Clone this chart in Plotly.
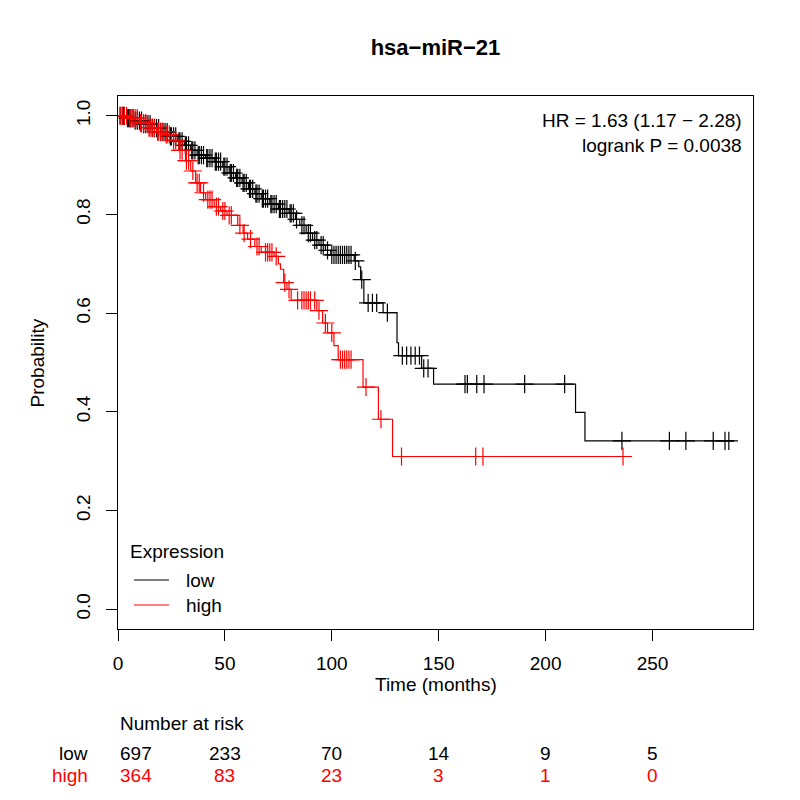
import numpy as np
import plotly.graph_objects as go

# --- Kaplan-Meier steps ---
# low expression (black)
low_time = [0, 4, 8, 12, 16, 20, 24, 28, 31, 34, 37, 41, 45, 49, 52, 55, 58, 61, 64, 67,
            71, 75, 80, 83, 85, 88, 91, 94, 97, 99.5, 110.5, 112.6, 113.5, 115, 124,
            130.5, 131.2, 142, 147.6, 214, 218.4]
low_surv = [1.0, 0.995, 0.99, 0.983, 0.975, 0.967, 0.958, 0.948, 0.94, 0.93, 0.92, 0.914,
            0.907, 0.897, 0.884, 0.874, 0.864, 0.852, 0.842, 0.832, 0.821, 0.811, 0.802,
            0.79, 0.778, 0.762, 0.748, 0.738, 0.727, 0.718, 0.706, 0.694, 0.668, 0.621,
            0.601, 0.54, 0.514, 0.488, 0.456, 0.399, 0.341]
low_end = 288.1
low_censor = [1, 2, 2.5, 3, 4.5, 5, 5.5, 6, 7, 8, 9, 10, 11, 12, 13, 14, 15, 16, 17, 18,
              19, 20, 21, 22, 23, 24.5, 25, 26, 27, 28.5, 29, 30, 31.5, 32, 33, 34.5, 35,
              36, 37.5, 38, 39, 40, 41.5, 42, 43, 44, 45.5, 46, 47, 48, 49.5, 50, 51, 52.5,
              53, 54, 55.5, 56, 57, 58.5, 59, 60, 61.5, 62, 63, 64.5, 65, 66, 67.5, 68, 69,
              70, 71.5, 72, 73, 74, 75.5, 76, 77, 78, 79, 80.5, 81, 82, 83.5, 86, 87, 89,
              90, 92, 93, 95, 96, 98, 100, 101, 102, 103, 104, 105, 106, 107, 108, 109,
              111, 114, 117, 119, 121, 126, 133, 135, 137, 139, 141, 143, 145,
              162.3, 163.4, 167.8, 171.2, 190.2, 208.9, 235.7, 257.9, 265.6, 278.4,
              283.9, 285.7]

# high expression (red)
high_time = [0, 5, 10, 14, 18, 22, 25, 28.5, 31.6, 34, 36.3, 38.6, 41, 45, 48, 51, 56,
             58.5, 60.6, 64, 67, 73, 75, 76, 77.5, 79, 81, 93, 95.7, 98, 101, 103, 114.6,
             121.8, 128.4]
high_surv = [1.0, 0.995, 0.985, 0.976, 0.968, 0.962, 0.95, 0.93, 0.909, 0.888, 0.864,
             0.844, 0.83, 0.816, 0.807, 0.798, 0.778, 0.762, 0.75, 0.735, 0.723, 0.715,
             0.70, 0.689, 0.662, 0.648, 0.626, 0.605, 0.58, 0.56, 0.534, 0.506, 0.45,
             0.385, 0.3095]
high_end = 238.5
high_censor = [1, 2, 3, 4, 5.5, 6, 7, 8, 9, 10.5, 11, 12, 13, 14.5, 15, 16, 17, 18.5, 19,
               20, 21, 22.5, 23, 24, 26, 27, 29, 30, 32, 33, 35, 37, 38, 40, 42, 43, 44,
               46, 47, 49, 50, 52, 53, 57, 59, 62, 65, 66, 69, 70, 71, 72, 74, 78, 80,
               84, 86, 87, 88, 89, 90, 92, 94, 97, 100, 104, 105, 106, 107, 108, 109,
               116, 123, 132.6, 167.3, 170.7, 236.2]

# number at risk table
risk_times = [0, 50, 100, 150, 200, 250]
risk_low = [697, 233, 70, 14, 9, 5]
risk_high = [364, 83, 23, 3, 1, 0]

RED = "#ff0000"
FONT = "Liberation Sans, Arial, Helvetica, sans-serif"


def surv_at(times, surv, t):
    idx = np.searchsorted(times, t, side="right") - 1
    return np.array(surv)[idx]


fig = go.Figure()

for name, times, surv, end, cens, col in [
    ("low", low_time, low_surv, low_end, low_censor, "black"),
    ("high", high_time, high_surv, high_end, high_censor, RED),
]:
    fig.add_trace(go.Scatter(
        x=times + [end], y=surv + [surv[-1]],
        mode="lines", line=dict(color=col, width=1.2, shape="hv"),
        name=name, showlegend=False,
    ))
    fig.add_trace(go.Scatter(
        x=cens, y=surv_at(times, surv, cens),
        mode="markers",
        marker=dict(symbol="cross-thin", size=13, line=dict(color=col, width=1.2)),
        showlegend=False, hoverinfo="skip",
    ))

ann = []
# HR text
ann.append(dict(xref="paper", yref="paper", x=0.986, y=0.977, xanchor="right", yanchor="top",
                align="right", showarrow=False,
                text="HR = 1.63 (1.17 \u2212 2.28)<br>logrank P = 0.0038"))
# axis titles
ann.append(dict(xref="paper", yref="paper", x=0.5, y=-0.105, xanchor="center",
                yanchor="middle", showarrow=False, text="Time (months)"))
ann.append(dict(xref="paper", yref="paper", x=-0.126, y=0.5, xanchor="center",
                yanchor="middle", showarrow=False, textangle=-90, text="Probability"))

# legend drawn by hand (R-style)
ann.append(dict(xref="paper", yref="paper", x=0.0157, y=0.1445, xanchor="left",
                yanchor="middle", showarrow=False, text="Expression"))
ann.append(dict(xref="paper", yref="paper", x=0.104, y=0.0919, xanchor="left",
                yanchor="middle", showarrow=False, text="low"))
ann.append(dict(xref="paper", yref="paper", x=0.104, y=0.045, xanchor="left",
                yanchor="middle", showarrow=False, text="high"))
shapes = [
    dict(type="line", xref="paper", yref="paper", x0=0.0252, x1=0.0803, y0=0.0919,
         y1=0.0919, line=dict(color="black", width=1.2)),
    dict(type="line", xref="paper", yref="paper", x0=0.0252, x1=0.0803, y0=0.045,
         y1=0.045, line=dict(color=RED, width=1.2)),
]

# risk table
ann.append(dict(xref="x", yref="paper", x=0, y=-0.178, xanchor="left", yanchor="middle",
                showarrow=False, text="Number at risk"))
ann.append(dict(xref="paper", yref="paper", x=-0.044, y=-0.2345, xanchor="right",
                yanchor="middle", showarrow=False, text="low"))
ann.append(dict(xref="paper", yref="paper", x=-0.044, y=-0.274, xanchor="right",
                yanchor="middle", showarrow=False, text="high", font=dict(color=RED)))
for i, t in enumerate(risk_times):
    anchor = "left" if i == 0 else "center"
    ann.append(dict(xref="x", yref="paper", x=t, y=-0.2345, xanchor=anchor,
                    yanchor="middle", showarrow=False, text=str(risk_low[i])))
    ann.append(dict(xref="x", yref="paper", x=t, y=-0.274, xanchor=anchor,
                    yanchor="middle", showarrow=False, text=str(risk_high[i]),
                    font=dict(color=RED)))

fig.update_layout(
    width=800, height=800,
    margin=dict(l=110, r=55, t=88, b=179),
    paper_bgcolor="white", plot_bgcolor="white",
    font=dict(family=FONT, size=19, color="black"),
    title=dict(text="<b>hsa\u2212miR\u221221</b>", x=0.5, xref="paper", xanchor="center",
               y=1 - 39 / 800, yanchor="middle", font=dict(size=22)),
    annotations=ann,
    shapes=shapes,
    showlegend=False,
)

fig.update_xaxes(
    range=[0, 297], tickvals=[0, 50, 100, 150, 200, 250],
    showgrid=False, zeroline=False,
    showline=True, mirror=True, linecolor="black", linewidth=1,
    ticks="outside", ticklen=11, tickwidth=1, tickcolor="black",
    ticklabelstandoff=6,
)
fig.update_yaxes(
    range=[-0.04, 1.04], tickvals=[0, 0.2, 0.4, 0.6, 0.8, 1.0],
    ticktext=["0.0", "0.2", "0.4", "0.6", "0.8", "1.0"], tickangle=-90,
    showgrid=False, zeroline=False,
    showline=True, mirror=True, linecolor="black", linewidth=1,
    ticks="outside", ticklen=11, tickwidth=1, tickcolor="black",
    ticklabelstandoff=8,
)

fig.write_html("out.html")
